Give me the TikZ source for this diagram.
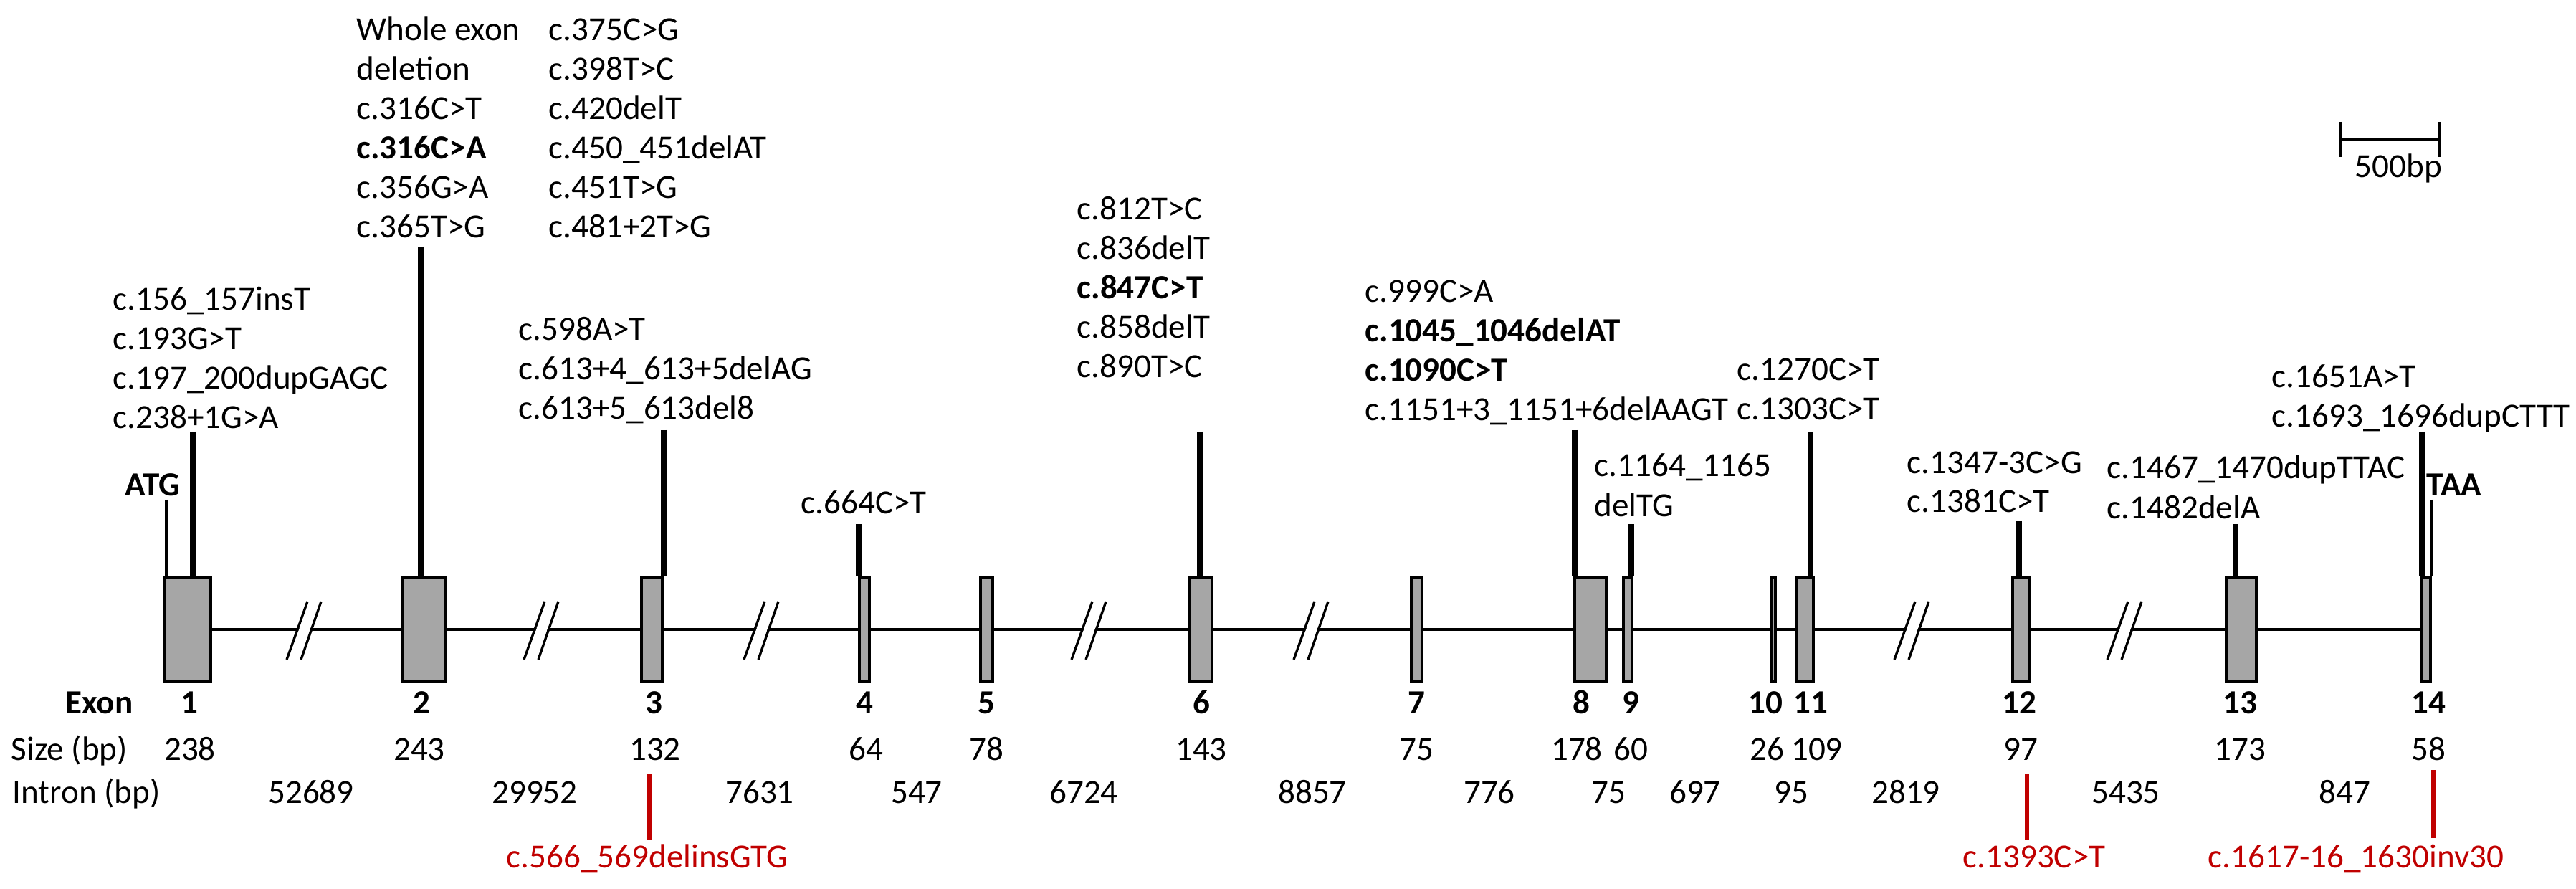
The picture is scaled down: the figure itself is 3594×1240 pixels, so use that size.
\documentclass[tikz,border=0pt]{standalone}
\usepackage{fontspec}
\setmainfont{Carlito}
\definecolor{exgray}{RGB}{166,166,166}
\definecolor{mutred}{RGB}{192,0,0}
\newcommand\mutlab[4]{\foreach \t [count=\i] in {#4}{\node[lab] (#3\i) at ({#1},{#2+55*(\i-1)}) {\t};}}
\begin{document}
\begin{tikzpicture}[x=0.01cm,y=-0.01cm,
  lab/.style={inner sep=0pt, font=\fontsize{13.4}{16}\selectfont, anchor=base west},
  num/.style={inner sep=0pt, font=\fontsize{13.4}{16}\selectfont, anchor=base},
  bnum/.style={inner sep=0pt, font=\fontsize{13.4}{16}\selectfont\bfseries, anchor=base},
  redlab/.style={num, text=mutred},
  exon/.style={draw=black, fill=exgray, line width=1.3pt, inner sep=0pt, minimum height=1.44cm, minimum width=#1},
  gene/.style={line width=1pt},
  stemline/.style={line width=2.1pt},
  thinline/.style={line width=1pt},
  breakline/.style={line width=0.95pt},
  redline/.style={line width=1.5pt, draw=mutred}]
\useasboundingbox (0,0) rectangle (3594,1240);
% exons
\foreach \c/\w [count=\i] in {262/0.64,591.5/0.59,909.5/0.29,1206/0.14,1376.5/0.17,1675/0.32,1976.5/0.15,2219/0.44,2271/0.12,2474/0.06,2518/0.24,2820/0.24,3127/0.42,3384.5/0.13}
  {\node[exon=\w cm] (e\i) at (\c,878) {};}
% gene line segments
\foreach \a/\b in {1/2,2/3,3/4,4/5,5/6,6/7,7/8,8/9,9/10,10/11,11/12,12/13,13/14}
  {\draw[gene] (e\a.east) -- (e\b.west);}
% break marks
\foreach \c in {424,755,1062,1519,1829,2667,2964}{
  \fill[white] ({\c-22},920) -- ({\c+7},839) -- ({\c+22},839) -- ({\c-6},920) -- cycle;
  \draw[breakline] ({\c-24},920) -- ({\c+5},839);
  \draw[breakline] ({\c-4},920) -- ({\c+24},839);
}
% stems
\coordinate (s1) at (269,602);
\coordinate (s2) at (587,344);
\coordinate (s3) at (926,600);
\coordinate (s4) at (1198,731);
\coordinate (s6) at (1674,602);
\coordinate (s8) at (2197,600);
\coordinate (s9) at (2276,731);
\coordinate (s11) at (2526,602);
\coordinate (s12) at (2817,727);
\coordinate (s13) at (3119,731);
\coordinate (s14) at (3379,602);
\foreach \s in {1,2,3,4,6,8,9,11,12,13,14}{\draw[stemline] (s\s) -- (s\s |- e\s.north);}
% ATG / TAA
\coordinate (atg) at (232,697);
\coordinate (taa) at (3392,697);
\draw[thinline] (atg) -- (atg |- e1.north);
\draw[thinline] (taa) -- (taa |- e14.north);
\node[lab, anchor=base east, font=\fontsize{13.4}{16}\selectfont\bfseries] (atglbl) at (252,692) {ATG};
\node[lab, font=\fontsize{13.4}{16}\selectfont\bfseries] (taalbl) at (3385,692) {TAA};
% mutation labels
\mutlab{157}{433}{mA}{c.156\_157insT,c.193G>T,c.197\_200dupGAGC,c.238+1G>A}
\mutlab{497}{57}{mB}{Whole exon,deletion,c.316C>T,\textbf{c.316C>A},c.356G>A,c.365T>G}
\mutlab{765}{57}{mC}{c.375C>G,c.398T>C,c.420delT,c.450\_451delAT,c.451T>G,c.481+2T>G}
\mutlab{723}{475}{mD}{c.598A>T,c.613+4\_613+5delAG,c.613+5\_613del8}
\mutlab{1117}{716}{mE}{c.664C>T}
\mutlab{1502}{307}{mF}{c.812T>C,c.836delT,\textbf{c.847C>T},c.858delT,c.890T>C}
\mutlab{1904}{422}{mG}{c.999C>A,\textbf{c.1045\_1046delAT},\textbf{c.1090C>T},c.1151+3\_1151+6delAAGT}
\mutlab{2224}{665}{mH}{c.1164\_1165,delTG}
\mutlab{2423}{531}{mI}{c.1270C>T,c.1303C>T}
\mutlab{2660}{660}{mJ}{c.1347-3C>G,c.1381C>T}
\mutlab{2939}{668}{mK}{c.1467\_1470dupTTAC,c.1482delA}
\mutlab{3169}{541}{mL}{c.1651A>T,c.1693\_1696dupCTTT}
% scale bar
\coordinate (sbL) at (3265,194);
\coordinate (sbR) at (3403,194);
\draw[thinline] (sbL) -- (sbR);
\draw[thinline] ([yshift=0.24cm]sbL) -- ([yshift=-0.25cm]sbL);
\draw[thinline] ([yshift=0.24cm]sbR) -- ([yshift=-0.25cm]sbR);
\node[lab] (sblbl) at (3285,248) {500bp};
% bottom rows
\node[lab, anchor=base east, font=\fontsize{13.4}{16}\selectfont\bfseries] (exonrow) at (186,995) {Exon};
\node[lab] (sizerow) at (15,1060) {Size (bp)};
\node[lab] (intronrow) at (17,1120) {Intron (bp)};
\foreach \x/\n [count=\i] in {264/1,588/2,912/3,1206/4,1376/5,1676/6,1976/7,2206/8,2275/9,2463/10,2526/11,2817/12,3125/13,3388/14}
  {\node[bnum] (xn\i) at (\x,995) {\n};}
\foreach \x/\n [count=\i] in {265/238,585/243,914/132,1208/64,1376/78,1676/143,1976/75,2200/178,2275/60,2465/26,2535/109,2819/97,3125/173,3388/58}
  {\node[num] (sz\i) at (\x,1060) {\n};}
\foreach \x/\n [count=\i] in {434/52689,746/29952,1060/7631,1279/547,1512/6724,1831/8857,2078/776,2244/75,2365/697,2499/95,2659/2819,2966/5435,3271/847}
  {\node[num] (in\i) at (\x,1120) {\n};}
% red mutations
\node[redlab] (r1) at (903,1210) {c.566\_569delinsGTG};
\node[redlab] (r2) at (2838,1210) {c.1393C>T};
\node[redlab] (r3) at (3287,1210) {c.1617-16\_1630inv30};
\coordinate (r1t) at (906,1080);
\coordinate (r2t) at (2828,1080);
\coordinate (r3t) at (3395,1074);
\draw[redline] (r1t) -- (r1t |- 0,1171);
\draw[redline] (r2t) -- (r2t |- 0,1171);
\draw[redline] (r3t) -- (r3t |- 0,1169);
\end{tikzpicture}
\end{document}
